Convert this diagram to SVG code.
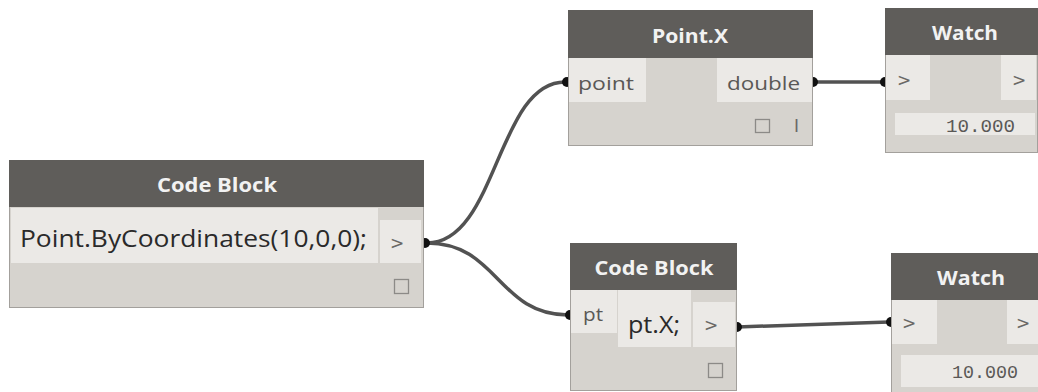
<svg xmlns="http://www.w3.org/2000/svg" width="1038" height="392" viewBox="0 0 1038 392">
<style>
.body{fill:#d6d3ce;stroke:#a3a09c;stroke-width:1}
.head{fill:#5f5d5a}
.lite{fill:#ebe9e6}
.icon{fill:none;stroke:#8c8a87;stroke-width:1.3}
.title{font-family:"Open Sans","Noto Sans",sans-serif;font-weight:bold;font-size:20px;fill:#f2f2f2;text-anchor:middle}
.lbl{font-family:"Open Sans","Noto Sans",sans-serif;font-size:19px;fill:#5a5856}
.code{font-family:"Open Sans","Noto Sans",sans-serif;font-size:23px;fill:#2a2a2a}
.gt{font-family:"DejaVu Sans",sans-serif;font-size:17px;fill:#6a6866}
.val{font-family:"Liberation Mono","DejaVu Sans Mono",monospace;font-size:19px;fill:#5a5856;text-anchor:end}
.wire{fill:none;stroke:#525252;stroke-width:3.5}
.dot{fill:#111}
</style>
<g id="connectors">
<path class="wire" d="M427,243 C497,243 497,82 565,82"/>
<path class="wire" d="M427,243 C498,243 498,315 568,315"/>
<path class="wire" d="M813,82 L883,82"/>
<path class="wire" d="M737,327 L889,322"/>
<circle class="dot" cx="425" cy="243" r="5"/>
<circle class="dot" cx="567" cy="82" r="5"/>
<circle class="dot" cx="570" cy="315" r="5"/>
<circle class="dot" cx="813" cy="82" r="5"/>
<circle class="dot" cx="885" cy="82" r="5"/>
<circle class="dot" cx="737" cy="327" r="5"/>
<circle class="dot" cx="891" cy="322" r="5"/>
</g>
<g id="codeblock1">
<rect class="body" x="9.5" y="160.5" width="414" height="147"/>
<rect class="head" x="9" y="160" width="415" height="47"/>
<rect class="lite" x="11" y="208" width="367" height="55"/>
<rect class="lite" x="380" y="220" width="41" height="43"/>
<rect class="icon" x="394.5" y="279.5" width="14" height="14"/>
<text class="title" x="217" y="192" textLength="120" lengthAdjust="spacingAndGlyphs">Code Block</text>
<text class="code" x="20" y="247" textLength="347" lengthAdjust="spacingAndGlyphs">Point.ByCoordinates(10,0,0);</text>
<text class="gt" x="390" y="249">&gt;</text>
</g>
<g id="pointx">
<rect class="body" x="568.5" y="10.5" width="244" height="135"/>
<rect class="head" x="568" y="10" width="245" height="48"/>
<rect class="lite" x="569" y="58" width="77" height="44"/>
<rect class="lite" x="717" y="58" width="95" height="44"/>
<rect class="icon" x="755.5" y="119.5" width="14" height="13"/>
<text class="title" x="690" y="43" textLength="76" lengthAdjust="spacingAndGlyphs">Point.X</text>
<text class="lbl" x="578" y="90" textLength="56" lengthAdjust="spacingAndGlyphs">point</text>
<text class="lbl" x="727" y="90" textLength="73" lengthAdjust="spacingAndGlyphs">double</text>
<text class="gt" x="794" y="132" font-size="12">I</text>
</g>
<g id="watch1">
<rect class="body" x="885.5" y="8.5" width="152" height="144"/>
<rect class="head" x="885" y="8" width="153" height="47"/>
<rect class="lite" x="886" y="55" width="44" height="45"/>
<rect class="lite" x="1001" y="55" width="35" height="45"/>
<rect class="lite" x="895" y="113" width="140" height="22"/>
<text class="title" x="965" y="40" textLength="66" lengthAdjust="spacingAndGlyphs">Watch</text>
<text class="gt" x="897" y="86">&gt;</text>
<text class="gt" x="1012" y="86">&gt;</text>
<text class="val" x="1015" y="132" textLength="69" lengthAdjust="spacingAndGlyphs">10.000</text>
</g>
<g id="codeblock2">
<rect class="body" x="570.5" y="243.5" width="166" height="147"/>
<rect class="head" x="570" y="243" width="167" height="47"/>
<rect class="lite" x="571" y="290" width="46" height="43"/>
<rect class="lite" x="618" y="290" width="73" height="57"/>
<rect class="lite" x="693" y="302" width="42" height="45"/>
<rect class="icon" x="708.5" y="363.5" width="14" height="14"/>
<text class="title" x="654" y="275" textLength="119" lengthAdjust="spacingAndGlyphs">Code Block</text>
<text class="lbl" x="583" y="321" font-size="17" textLength="20" lengthAdjust="spacingAndGlyphs">pt</text>
<text class="code" x="628" y="333" font-size="24" textLength="52" lengthAdjust="spacingAndGlyphs">pt.X;</text>
<text class="gt" x="704" y="331">&gt;</text>
</g>
<g id="watch2">
<rect class="body" x="891.5" y="253.5" width="152" height="145"/>
<rect class="head" x="891" y="253" width="153" height="47"/>
<rect class="lite" x="892" y="300" width="45" height="44"/>
<rect class="lite" x="1007" y="300" width="35" height="44"/>
<rect class="lite" x="901" y="355" width="140" height="32"/>
<text class="title" x="971" y="285" textLength="68" lengthAdjust="spacingAndGlyphs">Watch</text>
<text class="gt" x="902" y="329">&gt;</text>
<text class="gt" x="1016" y="329">&gt;</text>
<text class="val" x="1018" y="378" textLength="66" lengthAdjust="spacingAndGlyphs">10.000</text>
</g>
</svg>
